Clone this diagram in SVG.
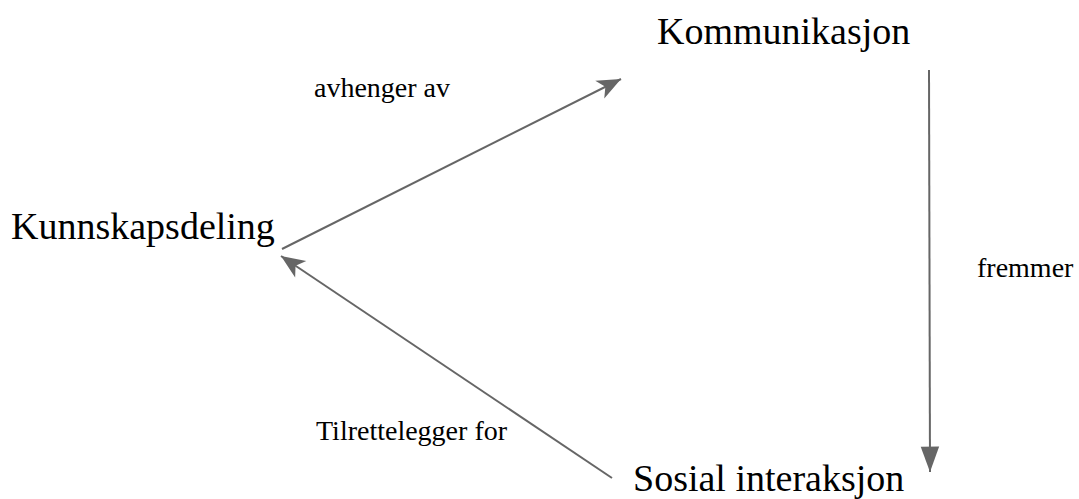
<svg xmlns="http://www.w3.org/2000/svg" width="1079" height="499" viewBox="0 0 1079 499">
  <style>
    .node { font-family: "Liberation Serif", "Times New Roman", serif; font-size: 38px; fill: #000; }
    .label { font-family: "Liberation Serif", "Times New Roman", serif; font-size: 28px; fill: #000; }
    .edge { stroke: #666; stroke-width: 2; fill: none; }
  </style>
  <defs>
    <!-- barbed arrowhead for the diagonal connectors -->
    <marker id="arrow" markerUnits="userSpaceOnUse" markerWidth="30" markerHeight="30" refX="0" refY="0" viewBox="-22 -11 24 22" orient="auto">
      <path d="M-19,-8 L0,0 L-19,8 L-14,0 Z" fill="#666"/>
    </marker>
    <!-- plain triangular arrowhead for the vertical connector -->
    <marker id="triangle" markerUnits="userSpaceOnUse" markerWidth="30" markerHeight="30" refX="0" refY="0" viewBox="-24 -11 26 22" orient="auto">
      <path d="M-22,-8 L0,0 L-22,8 Z" fill="#666"/>
    </marker>
  </defs>
  <rect width="1079" height="499" fill="#fff"/>

  <g id="connectors">
    <line class="edge" x1="282" y1="249" x2="621" y2="79" marker-end="url(#arrow)"/>
    <line class="edge" x1="612" y1="478" x2="281" y2="256" marker-end="url(#arrow)"/>
    <line class="edge" x1="929" y1="70" x2="930" y2="472" marker-end="url(#triangle)"/>
  </g>

  <g id="node-kommunikasjon">
    <text class="node" x="657" y="44">Kommunikasjon</text>
  </g>
  <g id="node-kunnskapsdeling">
    <text class="node" x="11" y="239">Kunnskapsdeling</text>
  </g>
  <g id="node-sosial-interaksjon">
    <text class="node" x="633" y="491">Sosial interaksjon</text>
  </g>

  <g id="edge-labels">
    <text class="label" x="314" y="97">avhenger av</text>
    <text class="label" x="977" y="277">fremmer</text>
    <text class="label" x="316" y="440">Tilrettelegger for</text>
  </g>
</svg>
